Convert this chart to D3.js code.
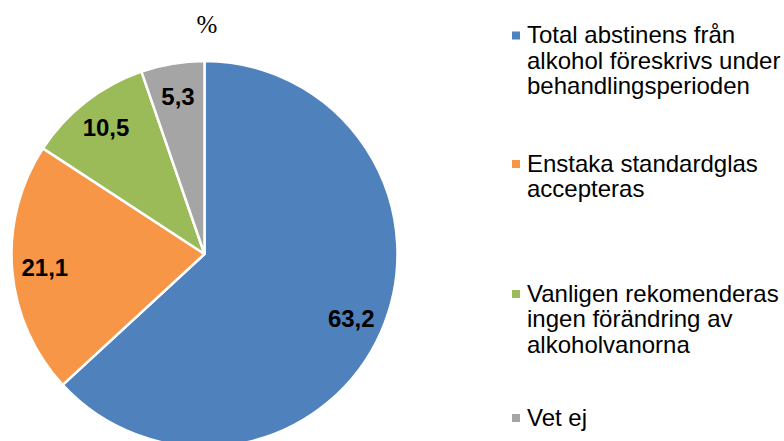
<!DOCTYPE html>
<html>
<head>
<meta charset="utf-8">
<script src="https://cdn.jsdelivr.net/npm/d3@7"></script>
<style>
  body { margin: 0; background: #fff; }
</style>
</head>
<body>
<div id="viz"></div>
<script>
const width = 784;
const height = 441;

// Data
const categories = [
  'Total abstinens från alkohol föreskrivs under behandlingsperioden',
  'Enstaka standardglas accepteras',
  'Vanligen rekomenderas ingen förändring av alkoholvanorna',
  'Vet ej'
];
const values = [63.2, 21.1, 10.5, 5.3];
const legendLines = [
  ['Total abstinens från', 'alkohol föreskrivs under', 'behandlingsperioden'],
  ['Enstaka standardglas', 'accepteras'],
  ['Vanligen rekomenderas', 'ingen förändring av', 'alkoholvanorna'],
  ['Vet ej']
];
const colors = ['#4F81BD', '#F79646', '#9BBB59', '#A5A5A5'];

// Layout
const cx = 204.5, cy = 254, radius = 193;
const legendX = 512, legendTextX = 527, lineHeight = 25.5;
const legendBaselines = [43, 171.5, 301.5, 425.5];

const svg = d3.select('#viz')
  .append('svg')
    .attr('width', width)
    .attr('height', height);

const color = d3.scaleOrdinal()
  .domain(categories)
  .range(colors);

const pie = d3.pie()
  .sort(null)
  .value(d => d.value);

const arcs = pie(categories.map((c, i) => ({category: c, value: values[i]})));

const arc = d3.arc()
  .innerRadius(0)
  .outerRadius(radius);

const labelArc = d3.arc()
  .innerRadius(radius * 0.83)
  .outerRadius(radius * 0.83);

const pieGroup = svg.append('g')
  .attr('transform', `translate(${cx},${cy})`);

pieGroup.selectAll('path')
  .data(arcs)
  .join('path')
    .attr('d', arc)
    .attr('fill', d => color(d.data.category))
    .attr('stroke', '#fff')
    .attr('stroke-width', 2.5)
    .attr('stroke-linejoin', 'round');

pieGroup.selectAll('text')
  .data(arcs)
  .join('text')
    .attr('transform', d => `translate(${labelArc.centroid(d)})`)
    .attr('text-anchor', 'middle')
    .attr('dy', '0.36em')
    .style('font-family', 'Arial, "Liberation Sans", sans-serif')
    .style('font-weight', 'bold')
    .style('font-size', '24px')
    .attr('fill', '#000')
    .text(d => d3.format('.1f')(d.data.value).replace('.', ','));

// Title
svg.append('text')
  .attr('x', 207)
  .attr('y', 33)
  .attr('text-anchor', 'middle')
  .style('font-family', '"Times New Roman", "Liberation Serif", serif')
  .style('font-size', '25px')
  .attr('fill', '#000')
  .text('%');

// Legend
const legend = svg.append('g')
  .selectAll('g')
  .data(categories)
  .join('g')
    .attr('transform', (d, i) => `translate(0,${legendBaselines[i]})`);

legend.append('rect')
  .attr('x', legendX)
  .attr('y', -11.5)
  .attr('width', 8)
  .attr('height', 8)
  .attr('fill', d => color(d));

legend.append('text')
  .style('font-family', 'Arial, "Liberation Sans", sans-serif')
  .style('font-size', '24px')
  .attr('fill', '#000')
  .selectAll('tspan')
  .data((d, i) => legendLines[i])
  .join('tspan')
    .attr('x', legendTextX)
    .attr('y', (d, j) => j * lineHeight)
    .text(d => d);
</script>
</body>
</html>
